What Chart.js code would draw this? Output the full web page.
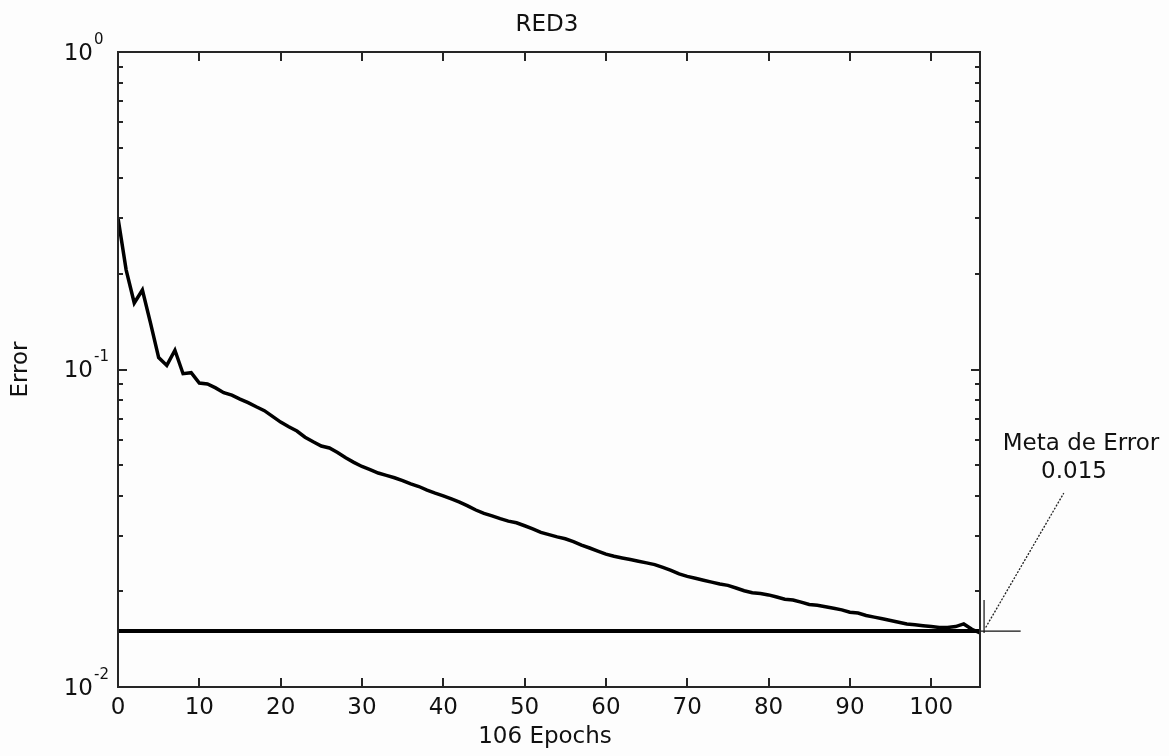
<!DOCTYPE html>
<html>
<head>
<meta charset="utf-8">
<script src="https://cdn.jsdelivr.net/npm/chart.js@4.4.1/dist/chart.umd.min.js"></script>
<style>
  html, body { margin: 0; padding: 0; background: #fdfdfd; }
  #wrap { width: 1169px; height: 756px; }
</style>
</head>
<body>
<div id="wrap"><canvas id="perf" width="1169" height="756"></canvas></div>
<script>
// training error per epoch (epoch 0..106)
const errorValues = [
  0.300, 0.206, 0.162, 0.178, 0.140, 0.109, 0.103, 0.115, 0.097, 0.0977,
  0.0906, 0.0900, 0.0875, 0.0845, 0.0830, 0.0807, 0.0786, 0.0763, 0.0742, 0.0712,
  0.0683, 0.0660, 0.0640, 0.0612, 0.0592, 0.0574, 0.0566, 0.0548, 0.0527, 0.0510,
  0.0495, 0.0484, 0.0472, 0.0464, 0.0456, 0.0447, 0.0436, 0.0428, 0.0417, 0.0408,
  0.0400, 0.0391, 0.0382, 0.0372, 0.0361, 0.0352, 0.0346, 0.0339, 0.0333, 0.0329,
  0.0322, 0.0315, 0.0307, 0.0302, 0.0297, 0.0293, 0.0287, 0.0280, 0.0274, 0.0268,
  0.0262, 0.0258, 0.0255, 0.0252, 0.0249, 0.0246, 0.0243, 0.0238, 0.0233, 0.0227,
  0.0223, 0.0220, 0.0217, 0.0214, 0.0211, 0.0209, 0.0205, 0.0201, 0.0198, 0.0197,
  0.0195, 0.0192, 0.0189, 0.0188, 0.0185, 0.0182, 0.0181, 0.0179, 0.0177, 0.0175,
  0.0172, 0.0171, 0.0168, 0.0166, 0.0164, 0.0162, 0.0160, 0.0158, 0.0157, 0.0156,
  0.0155, 0.0154, 0.0154, 0.0155, 0.0158, 0.0152, 0.0148
];
const goalValue = 0.015;
const goalX = [0, 106];          // thick goal line
const goalTailX = [106, 111];    // thin part outside the axes
const markerX = 106.5;
const markerY = [0.0148, 0.0188];
const pointerX = [106.7, 116.3]; // dotted pointer to the label
const pointerY = [0.0154, 0.0408];

const xTicks = [0, 10, 20, 30, 40, 50, 60, 70, 80, 90, 100];
const yMajor = [0.01, 0.1, 1];
const yMajorExp = ["-2", "-1", "0"];
const yMinorMantissa = [2, 3, 4, 5, 6, 7, 8, 9];

const FONT = '"DejaVu Sans", sans-serif';

const axesPlugin = {
  id: "matlabAxes",
  beforeDraw(chart) {
    const c = chart.ctx;
    c.save();
    c.fillStyle = "#fdfdfd";
    c.fillRect(0, 0, chart.width, chart.height);
    c.restore();
  },
  afterDraw(chart) {
    const c = chart.ctx;
    const a = chart.chartArea;
    const xs = chart.scales.x, ys = chart.scales.y;
    c.save();
    c.strokeStyle = "#262626";
    c.lineWidth = 2;
    c.strokeRect(a.left, a.top, a.right - a.left, a.bottom - a.top);

    // inward ticks on x (bottom and top)
    c.beginPath();
    xTicks.forEach(v => {
      const px = Math.round(xs.getPixelForValue(v));
      c.moveTo(px, a.bottom); c.lineTo(px, a.bottom - 9);
      c.moveTo(px, a.top); c.lineTo(px, a.top + 9);
    });
    // y ticks, left and right
    yMajor.forEach((d, i) => {
      const py = Math.round(ys.getPixelForValue(d));
      c.moveTo(a.left, py); c.lineTo(a.left + 9, py);
      c.moveTo(a.right, py); c.lineTo(a.right - 9, py);
      if (i < yMajor.length - 1) {
        yMinorMantissa.forEach(m => {
          const q = Math.round(ys.getPixelForValue(m * d));
          c.moveTo(a.left, q); c.lineTo(a.left + 5, q);
          c.moveTo(a.right, q); c.lineTo(a.right - 5, q);
        });
      }
    });
    c.stroke();

    c.fillStyle = "#111";
    c.textBaseline = "middle";
    // x tick labels
    c.font = "23px " + FONT;
    c.textAlign = "center";
    xTicks.forEach(v => c.fillText(String(v), xs.getPixelForValue(v), a.bottom + 21));
    // y tick labels 10^k
    yMajor.forEach((d, i) => {
      const py = ys.getPixelForValue(d);
      c.font = "23px " + FONT;
      c.textAlign = "right";
      c.fillText("10", 93, py + 2);
      c.font = "15px " + FONT;
      c.textAlign = "left";
      c.fillText(yMajorExp[i], 94, py - 12);
    });

    c.font = "23px " + FONT;
    c.textAlign = "center";
    c.fillText("RED3", 547, 25);
    c.fillText("106 Epochs", 545, 737);
    c.fillText("Meta de Error", 1081, 444);
    c.fillText("0.015", 1074, 472);

    c.translate(21, (a.top + a.bottom) / 2);
    c.rotate(-Math.PI / 2);
    c.fillText("Error", 0, 0);
    c.restore();
  }
};

const line = (data, extra) => Object.assign({
  data, borderColor: "#000", pointRadius: 0, tension: 0, fill: false
}, extra);

new Chart(document.getElementById("perf"), {
  type: "line",
  data: {
    datasets: [
      line(goalX.map(x => ({ x, y: goalValue })), { borderWidth: 4 }),
      line(errorValues.map((y, i) => ({ x: i, y })), { borderWidth: 3.5 }),
      line(goalTailX.map(x => ({ x, y: goalValue })), { borderWidth: 1.2, borderColor: "#111", clip: false }),
      line(markerY.map(y => ({ x: markerX, y })), { borderWidth: 1.2, borderColor: "#111", clip: false }),
      line(pointerX.map((x, i) => ({ x, y: pointerY[i] })), { borderWidth: 1.3, borderColor: "#222", borderDash: [2, 1.5], clip: false })
    ]
  },
  options: {
    responsive: false,
    animation: false,
    layout: { padding: { left: 118, top: 52, right: 189, bottom: 69 } },
    plugins: { legend: { display: false }, tooltip: { enabled: false }, title: { display: false } },
    scales: {
      x: { type: "linear", display: false, min: 0, max: 106 },
      y: { type: "logarithmic", display: false, min: 0.01, max: 1 }
    }
  },
  plugins: [axesPlugin]
});
</script>
</body>
</html>
